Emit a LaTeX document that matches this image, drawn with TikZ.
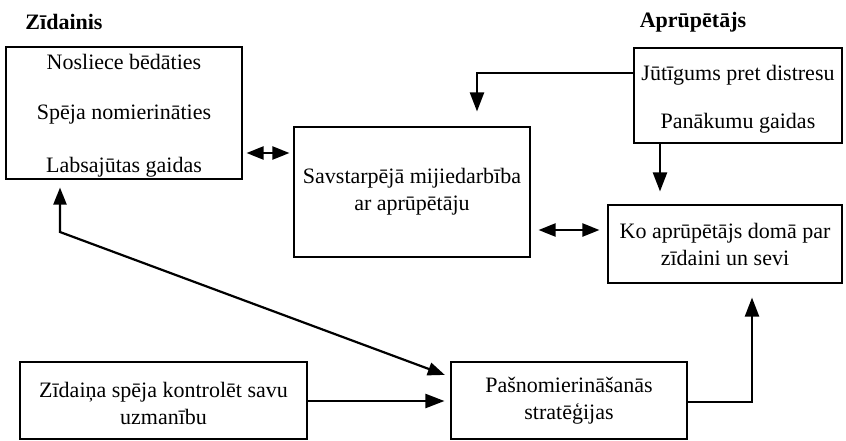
\documentclass[tikz,border=0pt]{standalone}
\usepackage{fontspec}
\setmainfont{Liberation Serif}
\usetikzlibrary{arrows.meta,calc}
\begin{document}
\begin{tikzpicture}[x=1pt,y=-1pt,
  box/.style={draw,line width=1.1pt,inner sep=0pt},
  txt/.style={font=\fontsize{22}{27}\selectfont,align=center,inner sep=0pt},
  ttl/.style={font=\fontsize{22}{27}\selectfont\bfseries,inner sep=0pt},
  conn/.style={line width=2.2pt,-{Triangle[length=19pt,width=14pt]}},
  dconn/.style={line width=2.2pt,{Triangle[length=17pt,width=13pt]}-{Triangle[length=17pt,width=13pt]}}]
\useasboundingbox (0,0) rectangle (846,440);
% titles
\node[ttl] (t1) at (64,22) {Zīdainis};
\node[ttl] (t2) at (693,22) {Aprūpētājs};
% boxes
\node[box,minimum width=236pt,minimum height=132pt] (b1) at (124,113) {};
\node[txt] (b1a) at (124,62) {Nosliece bēdāties};
\node[txt] (b1b) at (124,115) {Spēja nomierināties};
\node[txt] (b1c) at (124,167) {Labsajūtas gaidas};
\node[box,minimum width=236pt,minimum height=130pt,txt] (b2) at (412,192) {Savstarpējā mijiedarbība\\ar aprūpētāju};
\node[box,minimum width=208pt,minimum height=95pt] (b3) at (738,95.5) {};
\node[txt] (b3a) at (738,75) {Jūtīgums pret distresu};
\node[txt] (b3b) at (738,123) {Panākumu gaidas};
\node[box,minimum width=234pt,minimum height=78pt,txt] (b4) at (725,244) {Ko aprūpētājs domā par\\zīdaini un sevi};
\node[box,minimum width=287pt,minimum height=77pt] (b5) at (163.5,400.5) {};
\node[txt] (b5t) at (163.5,403) {Zīdaiņa spēja kontrolēt savu\\uzmanību};
\node[box,minimum width=236pt,minimum height=77pt] (b6) at (569,400.5) {};
\node[txt] (b6t) at (569,401) {Pašnomierināšanās\\stratēģijas};
% connectors
\draw[dconn,shorten <=4pt,shorten >=4pt] (b1.east |- 0,153) -- (b2.west |- 0,153);
\draw[conn,shorten >=15pt] (b3.west |- 0,73) -| (b2.north -| 477,0);
\draw[conn,shorten >=13pt] (b3.south -| 660,0) -- (b4.north -| 660,0);
\draw[dconn,shorten <=8pt,shorten >=8pt] (b2.east |- 0,230) -- (b4.west |- 0,230);
\draw[dconn,shorten <=8pt,shorten >=6pt] (b1.south -| 60,0) -- (60,232) -- (b6.west |- 0,377);
\draw[conn,shorten >=6pt] (b5.east |- 0,401) -- (b6.west |- 0,401);
\draw[conn,shorten >=14pt] (b6.east |- 0,402) -| (b4.south -| 752,0);
\end{tikzpicture}
\end{document}
